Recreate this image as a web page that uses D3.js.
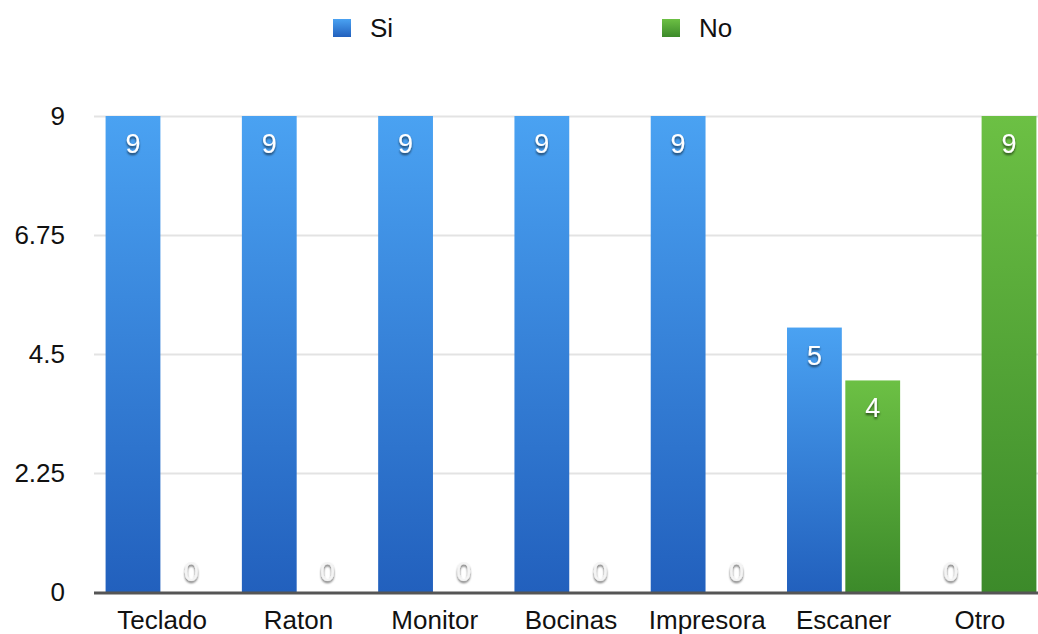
<!DOCTYPE html>
<html lang="es">
<head>
<meta charset="UTF-8">
<title>Si / No</title>
<script src="https://d3js.org/d3.v7.min.js"></script>
<style>
    body { margin: 0; background: #fff; }
    svg { display: block; font-family: "Liberation Sans", Arial, sans-serif; }
    .grid line { stroke: #e3e3e3; stroke-width: 2; }
    .grid path { display: none; }
    .tick-text { font-size: 26px; fill: #111; }
    .val { font-size: 27px; fill: #fff; text-anchor: middle; }
    .zero { fill: #f4f4f4; }
</style>
</head>
<body>
<div id="chart"></div>
<script>
    const categories = ["Teclado", "Raton", "Monitor", "Bocinas", "Impresora", "Escaner", "Otro"];
    const seriesNames = ["Si", "No"];
    const siValues = [9, 9, 9, 9, 9, 5, 0];
    const noValues = [0, 0, 0, 0, 0, 4, 9];
    const yTicks = [0, 2.25, 4.5, 6.75, 9];

    const W = 1038, H = 634;
    const margin = { top: 116, right: -10, bottom: 42, left: 94 };
    const width = W - margin.left - margin.right;
    const height = H - margin.top - margin.bottom;

    const svg = d3.select("#chart").append("svg")
        .attr("width", W).attr("height", H);

    // gradients
    const defs = svg.append("defs");
    const grads = [
        { id: "gSi", top: "#4aa2f2", bottom: "#2260bd" },
        { id: "gNo", top: "#6cc044", bottom: "#3c8a2a" }
    ];
    grads.forEach(g => {
        const lg = defs.append("linearGradient").attr("id", g.id)
            .attr("x1", 0).attr("y1", 0).attr("x2", 0).attr("y2", 1);
        lg.append("stop").attr("offset", "0%").attr("stop-color", g.top);
        lg.append("stop").attr("offset", "100%").attr("stop-color", g.bottom);
    });
    const shadow = defs.append("filter").attr("id", "sh")
        .attr("x", "-30%").attr("y", "-30%").attr("width", "160%").attr("height", "160%");
    shadow.append("feDropShadow").attr("dx", 0).attr("dy", 2).attr("stdDeviation", 1.2)
        .attr("flood-color", "#000").attr("flood-opacity", 0.6);

    const g = svg.append("g").attr("transform", `translate(${margin.left},${margin.top})`);

    const x = d3.scaleBand().domain(categories).range([0, width]).paddingInner(0.17).paddingOuter(0.085);
    const xs = d3.scaleBand().domain(seriesNames).range([0, x.bandwidth()]).paddingInner(0.06);
    const y = d3.scaleLinear().domain([0, 9]).range([height, 0]);

    // gridlines
    g.append("g").attr("class", "grid")
        .call(d3.axisLeft(y).tickValues(yTicks.slice(1)).tickSize(-(W - margin.left)).tickFormat(""));

    // y labels
    g.selectAll(".ylab").data(yTicks).join("text")
        .attr("class", "tick-text")
        .attr("x", -29).attr("y", d => y(d)).attr("dy", "0.36em")
        .attr("text-anchor", "end").text(d => d);

    const data = categories.map((c, i) => ({ cat: c, vals: [
        { s: "Si", v: siValues[i] }, { s: "No", v: noValues[i] }
    ]}));

    const groups = g.selectAll(".grp").data(data).join("g")
        .attr("transform", d => `translate(${x(d.cat)},0)`);

    groups.selectAll("rect").data(d => d.vals).join("rect")
        .attr("x", d => xs(d.s)).attr("width", xs.bandwidth())
        .attr("y", d => y(d.v)).attr("height", d => height - y(d.v))
        .attr("fill", d => d.s === "Si" ? "url(#gSi)" : "url(#gNo)");

    groups.selectAll("text").data(d => d.vals).join("text")
        .attr("class", d => d.v === 0 ? "val zero" : "val")
        .attr("filter", "url(#sh)")
        .attr("x", d => xs(d.s) + xs.bandwidth() / 2)
        .attr("y", d => d.v === 0 ? y(0) - 11 : y(d.v) + 37)
        .text(d => d.v);

    // x axis line
    g.append("line").attr("x1", 0).attr("x2", W - margin.left)
        .attr("y1", height + 1).attr("y2", height + 1)
        .attr("stroke", "#555").attr("stroke-width", 3);

    // x labels
    g.selectAll(".xlab").data(categories).join("text")
        .attr("class", "tick-text")
        .attr("x", d => x(d) + x.bandwidth() / 2).attr("y", height + 37)
        .attr("text-anchor", "middle").text(d => d);

    // legend
    const legend = svg.append("g");
    const legendX = [333, 662];
    seriesNames.forEach((s, i) => {
        legend.append("rect").attr("x", legendX[i]).attr("y", 19).attr("width", 18).attr("height", 18)
            .attr("fill", i === 0 ? "url(#gSi)" : "url(#gNo)");
        legend.append("text").attr("class", "tick-text")
            .attr("x", legendX[i] + 37).attr("y", 28).attr("dy", "0.36em").text(s);
    });
</script>
</body>
</html>
